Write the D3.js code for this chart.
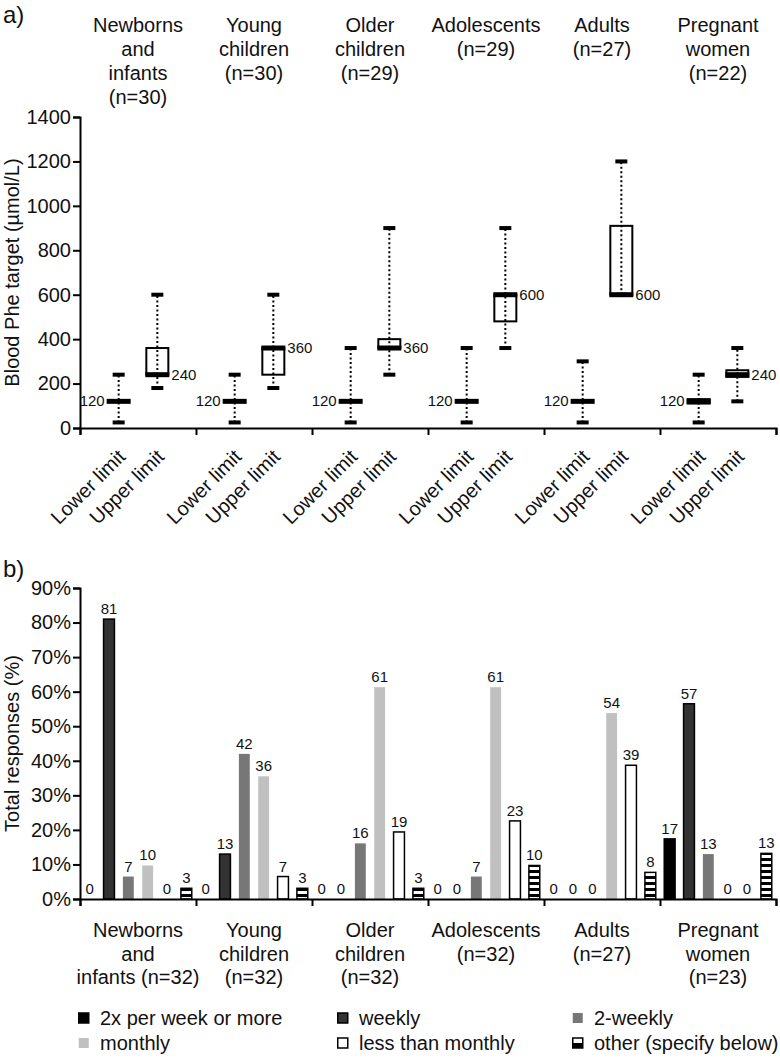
<!DOCTYPE html>
<html>
<head>
<meta charset="utf-8">
<script src="https://cdn.jsdelivr.net/npm/d3@7"></script>
<style>
  body { margin: 0; background: #fff; }
  svg text { font-family: "Liberation Sans", Arial, sans-serif; fill: #111; }
</style>
</head>
<body>
<script>
// ---------- Data: panel a ----------
const groupsA = [
  ["Newborns", "and", "infants", "(n=30)"],
  ["Young", "children", "(n=30)"],
  ["Older", "children", "(n=29)"],
  ["Adolescents", "(n=29)"],
  ["Adults", "(n=27)"],
  ["Pregnant", "women", "(n=22)"]
];
const limitNames = ["Lower limit", "Upper limit"];
const yTicksA = [0, 200, 400, 600, 800, 1000, 1200, 1400];

const lowerMin    = [25, 25, 25, 25, 25, 25];
const lowerQ1     = [120, 120, 120, 120, 120, 110];
const lowerMedian = [120, 120, 120, 120, 120, 120];
const lowerQ3     = [120, 120, 120, 120, 120, 130];
const lowerMax    = [240, 240, 360, 360, 300, 240];

const upperMin    = [180, 180, 240, 360, 600, 120];
const upperQ1     = [240, 240, 360, 480, 600, 230];
const upperMedian = [240, 360, 360, 600, 600, 240];
const upperQ3     = [360, 360, 400, 600, 910, 260];
const upperMax    = [600, 600, 900, 900, 1200, 360];

// ---------- Data: panel b ----------
const groupsB = [
  ["Newborns", "and", "infants (n=32)"],
  ["Young", "children", "(n=32)"],
  ["Older", "children", "(n=32)"],
  ["Adolescents", "(n=32)"],
  ["Adults", "(n=27)"],
  ["Pregnant", "women", "(n=23)"]
];
const seriesNames = ["2x per week or more", "weekly", "2-weekly", "monthly", "less than monthly", "other (specify below)"];
const twiceWeekly = [0, 0, 0, 0, 0, 17.4];
const weekly      = [81, 13, 0, 0, 0, 56.5];
const twoWeekly   = [6.5, 42, 16.1, 6.5, 0, 13];
const monthly     = [9.7, 35.5, 61.3, 61.3, 53.8, 0];
const lessMonthly = [0, 6.5, 19.4, 22.6, 38.7, 0];
const other       = [3.1, 3.1, 3.1, 9.7, 7.7, 13.2];
const yTicksB = [0, 10, 20, 30, 40, 50, 60, 70, 80, 90];

// ---------- Setup ----------
const W = 780, H = 1058;
const svg = d3.select("body").append("svg").attr("width", W).attr("height", H);
const FS = 20;

const defs = svg.append("defs");
const pat = defs.append("pattern").attr("id", "stripes").attr("patternUnits", "userSpaceOnUse")
  .attr("width", 8).attr("height", 6);
pat.append("rect").attr("width", 8).attr("height", 6).attr("fill", "#fff");
pat.append("rect").attr("width", 8).attr("height", 3).attr("fill", "#000");

const left = 80, right = 776;

function styleAxis(g) {
  g.selectAll("path.domain").attr("stroke", "#000").attr("stroke-width", 2);
  g.selectAll(".tick line").attr("stroke", "#000").attr("stroke-width", 2);
  g.selectAll(".tick text").attr("font-size", FS).attr("fill", "#111")
    .attr("font-family", '"Liberation Sans", Arial, sans-serif');
}

// ---------- Panel a ----------
const yA = d3.scaleLinear().domain([0, 1400]).range([428, 117]);
const xGroupA = d3.scaleBand().domain(d3.range(6)).range([left, right]);
const xSubA = d3.scalePoint().domain(limitNames).range([0, xGroupA.bandwidth()]).padding(1);
const xTickA = d3.scaleLinear().domain([0, 6]).range([left, right]);

svg.append("text").attr("x", 3).attr("y", 23).attr("font-size", 24).text("a)");

// header labels
groupsA.forEach((lines, i) => {
  const cx = xGroupA(i) + xGroupA.bandwidth() / 2;
  const t = svg.append("text").attr("text-anchor", "middle").attr("font-size", FS);
  lines.forEach((l, j) => t.append("tspan").attr("x", cx).attr("y", 32 + j * 24).text(l));
});

// y axis
const gyA = svg.append("g").attr("transform", `translate(${left},0)`)
  .call(d3.axisLeft(yA).tickValues(yTicksA).tickSize(7).tickPadding(2).tickFormat(d3.format("d")));
styleAxis(gyA);
// x axis
const gxA = svg.append("g").attr("transform", `translate(0,${yA(0)})`)
  .call(d3.axisBottom(xTickA).tickValues(d3.range(7)).tickSize(7).tickFormat(""));
styleAxis(gxA);

svg.append("text").attr("transform", `translate(19,${(yA(0) + yA(1400)) / 2}) rotate(-90)`)
  .attr("text-anchor", "middle").attr("font-size", FS).text("Blood Phe target (µmol/L)");

// rotated x labels
groupsA.forEach((_, i) => {
  limitNames.forEach(n => {
    const x = xGroupA(i) + xSubA(n);
    svg.append("text").attr("transform", `translate(${x + 8},${yA(0) + 30}) rotate(-45)`)
      .attr("text-anchor", "end").attr("font-size", FS).text(n);
  });
});

function drawBox(x, mn, q1, med, q3, mx, label, labelSide) {
  const g = svg.append("g");
  const boxW = 22, capW = 12, medW = 24;
  if (q3 > q1) {
    g.append("rect").attr("x", x - boxW / 2).attr("y", yA(q3)).attr("width", boxW)
      .attr("height", yA(q1) - yA(q3)).attr("fill", "none").attr("stroke", "#000").attr("stroke-width", 2);
  }
  g.append("line").attr("x1", x).attr("x2", x).attr("y1", yA(mn)).attr("y2", yA(mx))
    .attr("stroke", "#000").attr("stroke-width", 2).attr("stroke-dasharray", "2,2.5");
  [mn, mx].forEach(v => {
    g.append("rect").attr("x", x - capW / 2).attr("y", yA(v) - 2).attr("width", capW).attr("height", 4).attr("fill", "#000");
  });
  g.append("rect").attr("x", x - medW / 2).attr("y", yA(med) - 2.5).attr("width", medW).attr("height", 5).attr("fill", "#000");
  if (labelSide === "left") {
    g.append("text").attr("x", x - 14).attr("y", yA(med) + 5).attr("text-anchor", "end").attr("font-size", 15).text(label);
  } else {
    g.append("text").attr("x", x + 14).attr("y", yA(med) + 5).attr("text-anchor", "start").attr("font-size", 15).text(label);
  }
}

groupsA.forEach((_, i) => {
  const xl = xGroupA(i) + xSubA("Lower limit");
  const xu = xGroupA(i) + xSubA("Upper limit");
  drawBox(xl, lowerMin[i], lowerQ1[i], lowerMedian[i], lowerQ3[i], lowerMax[i], String(lowerMedian[i]), "left");
  drawBox(xu, upperMin[i], upperQ1[i], upperMedian[i], upperQ3[i], upperMax[i], String(upperMedian[i]), "right");
});

// ---------- Panel b ----------
const yB = d3.scaleLinear().domain([0, 90]).range([899, 588]);
const xGroupB = d3.scaleBand().domain(d3.range(6)).range([left, right]);
const xSubB = d3.scaleBand().domain(seriesNames).range([0, xGroupB.bandwidth()]).paddingInner(0.36).paddingOuter(0.18);
const xTickB = d3.scaleLinear().domain([0, 6]).range([left, right]);

svg.append("text").attr("x", 3).attr("y", 577).attr("font-size", 24).text("b)");

const seriesData = [twiceWeekly, weekly, twoWeekly, monthly, lessMonthly, other];
const fills = ["#000", "#333", "#777", "#c0c0c0", "#fff", "url(#stripes)"];
const strokes = ["#000", "#000", "none", "none", "#000", "#000"];

seriesData.forEach((arr, s) => {
  arr.forEach((v, i) => {
    const x = xGroupB(i) + xSubB(seriesNames[s]);
    const bw = xSubB.bandwidth();
    if (v > 0) {
      svg.append("rect").attr("x", x + 0.75).attr("y", yB(v)).attr("width", bw - 1.5)
        .attr("height", yB(0) - yB(v)).attr("fill", fills[s])
        .attr("stroke", strokes[s]).attr("stroke-width", 1.5);
    }
    svg.append("text").attr("x", x + bw / 2).attr("y", yB(v) - 5).attr("text-anchor", "middle")
      .attr("font-size", 15).text(Math.round(v));
  });
});

const gyB = svg.append("g").attr("transform", `translate(${left},0)`)
  .call(d3.axisLeft(yB).tickValues(yTicksB).tickSize(7).tickPadding(2).tickFormat(d => d + "%"));
styleAxis(gyB);
const gxB = svg.append("g").attr("transform", `translate(0,${yB(0)})`)
  .call(d3.axisBottom(xTickB).tickValues(d3.range(7)).tickSize(7).tickFormat(""));
styleAxis(gxB);

svg.append("text").attr("transform", `translate(19,${(yB(0) + yB(90)) / 2}) rotate(-90)`)
  .attr("text-anchor", "middle").attr("font-size", FS).text("Total responses (%)");

groupsB.forEach((lines, i) => {
  const cx = xGroupB(i) + xGroupB.bandwidth() / 2;
  const t = svg.append("text").attr("text-anchor", "middle").attr("font-size", FS);
  lines.forEach((l, j) => t.append("tspan").attr("x", cx).attr("y", 937 + j * 23.5).text(l));
});

// legend
const legendX = [78, 337, 572];
const legendY = [1018, 1043];
seriesNames.forEach((n, s) => {
  const col = s % 3, row = Math.floor(s / 3);
  const lx = legendX[col], ly = legendY[row];
  const g = svg.append("g");
  if (s === 5) {
    g.append("rect").attr("x", lx + 0.75).attr("y", ly - 5).attr("width", 10).attr("height", 5).attr("fill", "#fff");
    g.append("rect").attr("x", lx + 0.75).attr("y", ly).attr("width", 10).attr("height", 5).attr("fill", "#000");
    g.append("rect").attr("x", lx + 0.75).attr("y", ly - 5).attr("width", 10).attr("height", 10)
      .attr("fill", "none").attr("stroke", "#000").attr("stroke-width", 1.5);
  } else {
    g.append("rect").attr("x", lx + 0.75).attr("y", ly - 5).attr("width", 10).attr("height", 10)
      .attr("fill", fills[s]).attr("stroke", strokes[s]).attr("stroke-width", 1.5);
  }
  g.append("text").attr("x", lx + 22).attr("y", ly + 7).attr("font-size", FS).text(n);
});
</script>
</body>
</html>
